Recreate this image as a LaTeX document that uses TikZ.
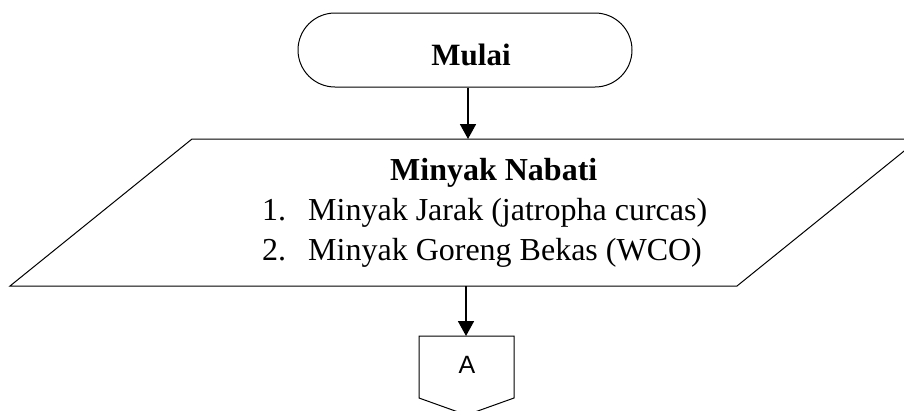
\documentclass[tikz,border=0pt]{standalone}
\usepackage{fontspec}
\setmainfont{Liberation Serif}
\newfontfamily\arialfont{Liberation Sans}
\usetikzlibrary{arrows.meta}
\tikzset{
  outline/.style={draw=black, line width=1pt},
  flowarrow/.style={draw=black, line width=1.8pt, -{Triangle[width=16pt,length=15pt]}},
  txt/.style={inner sep=0pt, anchor=base west, font=\fontsize{32}{40}\selectfont},
  boldtxt/.style={txt, font=\fontsize{32}{40}\selectfont\bfseries},
}
\begin{document}
\begin{tikzpicture}[x=1pt,y=-1pt]
\useasboundingbox (0,0) rectangle (904,410);
\clip (0,0) rectangle (904,410);
% terminator
\node[outline, rectangle, rounded corners=37pt, minimum width=334pt, minimum height=74pt, inner sep=0pt] (start) at (465,50) {};
\node[inner sep=0pt, anchor=base, font=\fontsize{31}{38}\selectfont\bfseries] (startlbl) at (471,65) {Mulai};
% input/output parallelogram
\draw[outline] (10,286) -- (192,139) -- (919,139) -- (737,286) -- cycle;
\coordinate (iotop) at (468,139);
\coordinate (iobot) at (466,286);
\node[boldtxt] (title) at (390,180) {Minyak Nabati};
\node[txt] (n1) at (262,220) {1.};
\node[txt] (l1) at (308,220) {Minyak Jarak (jatropha curcas)};
\node[txt] (n2) at (262,260) {2.};
\node[txt] (l2) at (308,260) {Minyak Goreng Bekas (WCO)};
% off-page connector
\draw[outline] (419,336) -- (514,336) -- (514,398) -- (466.5,415) -- (419,398) -- cycle;
\coordinate (conntop) at (466,336);
\node[inner sep=0pt, anchor=base, font=\arialfont\fontsize{25}{30}\selectfont] (connA) at (467,373) {A};
% connectors
\draw[flowarrow] (start.south -| iotop) -- (iotop);
\draw[flowarrow] (iobot) -- (conntop);
\end{tikzpicture}
\end{document}
